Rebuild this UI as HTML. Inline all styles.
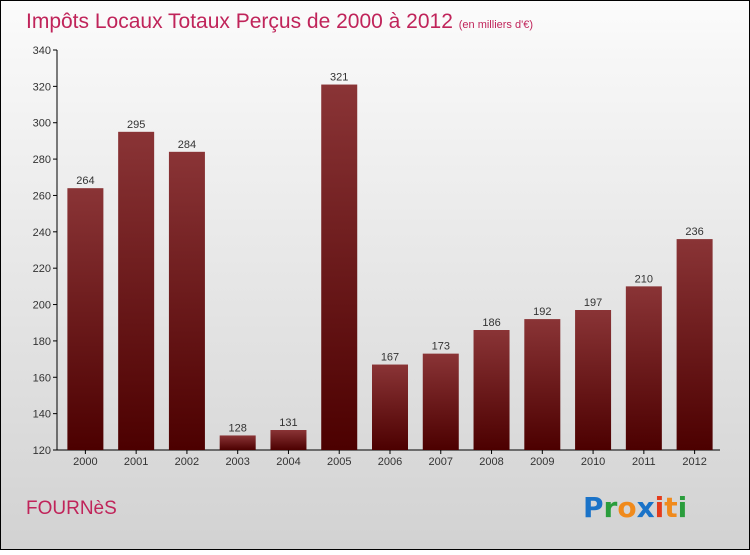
<!DOCTYPE html>
<html><head><meta charset="utf-8"><style>
body{margin:0;width:750px;height:550px;overflow:hidden;font-family:"Liberation Sans",sans-serif;}
</style></head><body>
<svg id="c" width="750" height="550" xmlns="http://www.w3.org/2000/svg">
<defs>
<linearGradient id="bg" x1="0" y1="0" x2="0" y2="1"><stop offset="0" stop-color="#fbfbfb"/><stop offset="1" stop-color="#d2d2d2"/></linearGradient>
<linearGradient id="bar" x1="0" y1="0" x2="0" y2="1"><stop offset="0" stop-color="#8a3436"/><stop offset="1" stop-color="#4c0000"/></linearGradient>
</defs>
<rect x="0.5" y="0.5" width="749" height="549" fill="url(#bg)" stroke="#000"/>
<text x="26" y="28" font-size="21" fill="#c0245a">Impôts Locaux Totaux Perçus de 2000 à 2012 <tspan font-size="11">(en milliers d'€)</tspan></text>
<text x="26" y="514" font-size="19" fill="#c0245a">FOURNèS</text>
<g font-size="28" font-weight="bold" font-family="'DejaVu Sans',sans-serif">
<text x="583" y="517"><tspan fill="#1a73c8">P</tspan><tspan fill="#2a9d3c">r</tspan><tspan fill="#f08a1c">o</tspan><tspan fill="#1a73c8">x</tspan><tspan fill="#e43b1c">i</tspan><tspan fill="#f08a1c">t</tspan><tspan fill="#2a9d3c">i</tspan></text>
</g>
<g id="axes"></g>
<g id="bars"></g>
</svg>
<script>
const categories=["2000","2001","2002","2003","2004","2005","2006","2007","2008","2009","2010","2011","2012"];
const values=[264,295,284,128,131,321,167,173,186,192,197,210,236];
const ticks=[120,140,160,180,200,220,240,260,280,300,320,340];
const NS="http://www.w3.org/2000/svg";
const x0=60,x1=720,yTop=50,yBot=450,vMin=120,vMax=340;
const y=v=>yBot-(v-vMin)/(vMax-vMin)*(yBot-yTop);
const step=(x1-x0)/categories.length;
const xc=i=>x0+step*(i+0.5);
function mk(t,a,p){const e=document.createElementNS(NS,t);for(const k in a)e.setAttribute(k,a[k]);p.appendChild(e);return e;}
const ax=document.getElementById('axes'),bg=document.getElementById('bars');
const yl=mk('line',{x1:57,y1:yTop,x2:57,y2:yBot,stroke:'#000'},ax);


const xl=mk('line',{x1:57,y1:yBot,x2:x1,y2:yBot,stroke:'#000'},ax);


ticks.forEach(t=>{
  mk('line',{x1:53,y1:y(t),x2:57,y2:y(t),stroke:'#000'},ax);
  const tx=mk('text',{x:51,y:y(t)+4,'font-size':11,'text-anchor':'end',fill:'#333'},ax);
  tx.textContent=t;
  
  
});
categories.forEach((c,i)=>{
  const v=values[i];
  const r=mk('rect',{x:xc(i)-18,y:y(v),width:36,height:yBot-y(v),fill:'url(#bar)'},bg);
  
  
  const lb=mk('text',{x:xc(i),y:y(v)-4,'font-size':11,'text-anchor':'middle',fill:'#333'},bg);
  lb.textContent=v;
  
  
  mk('line',{x1:xc(i),y1:yBot,x2:xc(i),y2:yBot+4,stroke:'#000'},ax);
  const xt=mk('text',{x:xc(i),y:yBot+15,'font-size':11,'text-anchor':'middle',fill:'#333'},ax);
  xt.textContent=c;
  
  
});
</script>
</body></html>
